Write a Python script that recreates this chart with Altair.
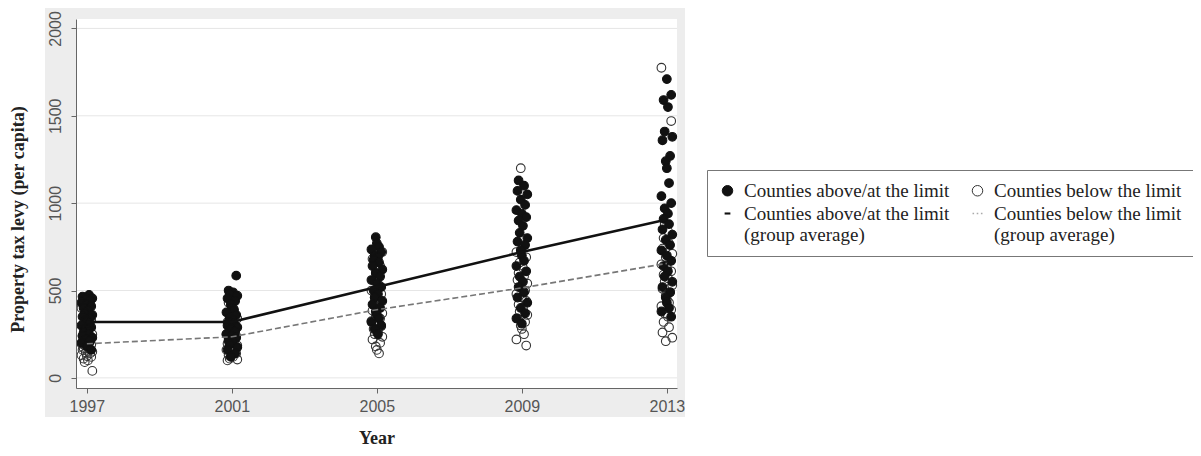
import altair as alt
import pandas as pd

# ---------------- data ----------------
years = [1997, 2001, 2005, 2009, 2013]
y_ticks = [0, 500, 1000, 1500, 2000]

above_1997 = [475, 465, 455, 450, 440, 430, 420, 410, 400, 385, 370, 360, 350, 340, 330,
              320, 310, 300, 290, 280, 270, 260, 250, 240, 230, 220, 210, 200, 180, 160]
below_1997 = [400, 360, 330, 300, 280, 260, 250, 240, 230, 220, 210, 200, 195, 190, 185,
              180, 170, 165, 160, 150, 145, 140, 130, 125, 120, 110, 100, 90, 40]

above_2001 = [585, 500, 490, 480, 470, 455, 440, 420, 400, 390, 375, 360, 345, 330, 320,
              310, 300, 290, 280, 265, 250, 240, 230, 215, 200, 190, 175, 160, 140, 120]
below_2001 = [430, 400, 370, 340, 320, 300, 285, 270, 260, 250, 240, 230, 220, 210, 200,
              195, 185, 175, 165, 160, 150, 140, 130, 120, 110, 105, 100]

above_2005 = [805, 770, 750, 735, 720, 700, 690, 675, 660, 640, 620, 600, 580, 560, 540,
              520, 500, 480, 460, 440, 420, 400, 380, 360, 340, 320, 300, 280, 250]
below_2005 = [720, 680, 640, 600, 560, 530, 500, 480, 460, 440, 420, 400, 385, 370, 355,
              340, 325, 310, 295, 280, 265, 250, 235, 220, 200, 180, 160, 140]

above_2009 = [1130, 1100, 1070, 1050, 1020, 990, 960, 940, 920, 900, 870, 830, 800, 780, 760,
              730, 700, 670, 640, 610, 580, 550, 520, 490, 460, 430, 400, 370, 340, 310]
below_2009 = [1200, 800, 760, 720, 690, 660, 630, 600, 580, 560, 540, 520, 500, 480, 460,
              440, 420, 400, 380, 360, 340, 320, 300, 280, 250, 220, 185]

above_2013 = [1710, 1620, 1590, 1550, 1410, 1380, 1360, 1270, 1240, 1200, 1115, 1040, 1000,
              970, 940, 910, 880, 850, 820, 790, 760, 730, 700, 670, 640, 610, 580, 550, 520,
              490, 460, 430, 400, 380, 350]
below_2013 = [1775, 1470, 880, 840, 800, 770, 740, 710, 690, 670, 650, 630, 610, 590, 570,
              550, 530, 510, 490, 470, 450, 430, 410, 390, 370, 350, 320, 290, 260, 230, 210]

avg_above = [320, 320, 520, 720, 906]
avg_below = [195, 235, 390, 515, 655]

SER_A = "Counties above/at the limit"
SER_B = "Counties below the limit"
SER_C = "Counties above/at the limit|(group average)"
SER_D = "Counties below the limit|(group average)"
# column-major legend: column 1 = A, C ; column 2 = B, D
series_order = [SER_A, SER_C, SER_B, SER_D]

# horizontal jitter pattern (display only)
jitter = [2, -4, 5, -1, 3, -5, 0, 4, -3, 1, -2, 5, -4, 3, -1, 0, 2, -5, 4, -2, 1, -3]

# ---------------- tables ----------------
above_sets = [above_1997, above_2001, above_2005, above_2009, above_2013]
below_sets = [below_1997, below_2001, below_2005, below_2009, below_2013]

rows = []
for k, (yr, vals) in enumerate(zip(years, below_sets)):
    for i, v in enumerate(vals):
        j = jitter[(i + 3 * k + 5) % len(jitter)]
        rows.append({"year": yr + j * 0.03, "levy": v, "series": SER_B, "ord": 0})
for k, (yr, vals) in enumerate(zip(years, above_sets)):
    for i, v in enumerate(vals):
        j = jitter[(i + 7 * k) % len(jitter)]
        rows.append({"year": yr + j * 0.03, "levy": v, "series": SER_A, "ord": 1})
pts = pd.DataFrame(rows)

avg_df = pd.DataFrame({"year": years, "above": avg_above, "below": avg_below})
grid_df = pd.DataFrame({"v": y_ticks})
one = pd.DataFrame({"k": [0]})

W, H = 601, 369
xscale = alt.Scale(domain=[1996.7, 2013.28], nice=False, zero=False)
yscale = alt.Scale(domain=[-58, 2054], nice=False, zero=False)

x_axis = alt.Axis(values=years, format="d", labelFont="Liberation Sans", labelFontSize=16,
                  labelColor="#555", domainColor="#666", tickColor="#666", tickSize=5,
                  labelPadding=5, grid=False, title="Year", titleFont="Liberation Serif",
                  titleFontSize=18, titleFontWeight="bold", titleColor="#222",
                  titleX=W / 2, titleY=50, titleBaseline="middle", titleAlign="center", zindex=1)
y_axis = alt.Axis(values=y_ticks, format="d", labelFont="Liberation Sans", labelFontSize=16,
                  labelColor="#555", domainColor="#666", tickColor="#666", tickSize=5,
                  labelPadding=8, labelAngle=270, labelAlign="center", labelBaseline="bottom",
                  grid=False, title="Property tax levy (per capita)", titleFont="Liberation Serif",
                  titleFontSize=18, titleFontWeight="bold", titleColor="#222", titleAngle=270,
                  titleX=-58, titleY=200, titleBaseline="middle", titleAlign="center", zindex=1)


def X(field):
    return alt.X(f"{field}:Q", scale=xscale, axis=x_axis)


def Y(field):
    return alt.Y(f"{field}:Q", scale=yscale, axis=y_axis)


frame = alt.Chart(one).mark_rect(color="#ededed").encode(
    x=alt.value(-31), x2=alt.value(W + 8), y=alt.value(-14), y2=alt.value(H + 29))
panel = alt.Chart(one).mark_rect(color="white").encode(
    x=alt.value(0), x2=alt.value(W), y=alt.value(0), y2=alt.value(H))
grid = alt.Chart(grid_df).mark_rule(color="#e6e6e6", strokeWidth=1).encode(y=Y("v"))

dash_path = "M-0.55,-0.2H0.55V0.2H-0.55Z"
dot_path = ("M-0.95,-0.12H-0.65V0.12H-0.95Z M-0.15,-0.12H0.15V0.12H-0.15Z "
            "M0.65,-0.12H0.95V0.12H0.65Z")

legend = alt.Legend(title=None, orient="none", legendX=631, legendY=151, columns=2,
                    labelExpr="split(datum.label, '|')", labelFont="Liberation Serif",
                    labelFontSize=19, labelColor="#222", labelLimit=0, symbolSize=110,
                    symbolStrokeWidth=1, strokeColor="#777", fillColor="white", padding=11,
                    columnPadding=18, rowPadding=3, labelOffset=7)

points = alt.Chart(pts).mark_point(size=75, opacity=1, strokeWidth=1.1).encode(
    x=X("year"), y=Y("levy"),
    shape=alt.Shape("series:N", scale=alt.Scale(domain=series_order,
                    range=["circle", dash_path, "circle", dot_path]), legend=legend),
    fill=alt.Fill("series:N", scale=alt.Scale(domain=series_order,
                  range=["#111111", "#111111", "transparent", "#aaaaaa"]), legend=legend),
    stroke=alt.Stroke("series:N", scale=alt.Scale(domain=series_order,
                      range=["#111111", "transparent", "#333333", "transparent"]), legend=legend),
    order=alt.Order("ord:Q"),
)

line_a = alt.Chart(avg_df).mark_line(color="#111111", strokeWidth=2.5).encode(
    x=X("year"), y=Y("above"))
line_b = alt.Chart(avg_df).mark_line(color="#777777", strokeWidth=1.6, strokeDash=[6, 3]).encode(
    x=X("year"), y=Y("below"))

chart = alt.layer(frame, panel, grid, points, line_a, line_b).properties(
    width=W, height=H,
    autosize=alt.AutoSizeParams(type="none"),
    padding={"left": 68, "top": 11, "right": 516, "bottom": 60},
    background="white",
).configure_view(stroke=None)

chart.save("out.html", embed_options={"renderer": "svg", "actions": False})
